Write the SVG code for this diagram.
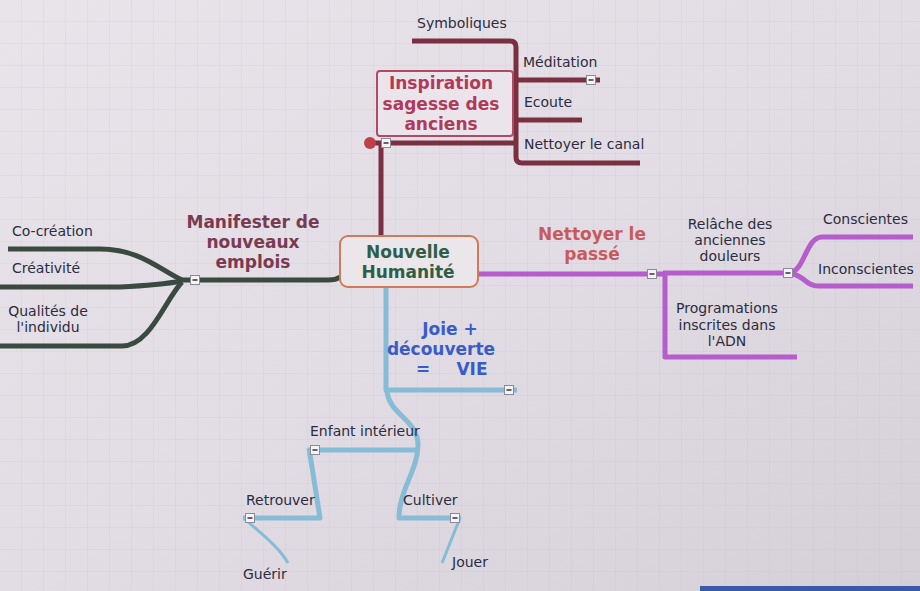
<svg xmlns="http://www.w3.org/2000/svg" width="920" height="591" viewBox="0 0 920 591">
<defs>
<linearGradient id="bg" x1="0" y1="0" x2="1" y2="1">
<stop offset="0" stop-color="#e9e4ea"/>
<stop offset="0.5" stop-color="#e2dce4"/>
<stop offset="1" stop-color="#d5cfd8"/>
</linearGradient>
<pattern id="grid" width="22" height="22" patternUnits="userSpaceOnUse">
<path d="M22,0 V22 M0,22 H22" fill="none" stroke="#b8b2c0" stroke-width="0.6" opacity="0.5"/>
</pattern>
<g id="minus">
<rect x="-4.5" y="-4.5" width="9" height="9" fill="#f4f4f6" stroke="#8a8a98" stroke-width="1"/>
<line x1="-2.5" y1="0" x2="2.5" y2="0" stroke="#333" stroke-width="1.5"/>
</g>
</defs>
<style>
.ln{fill:none;stroke-width:5;stroke-linecap:butt;stroke-linejoin:round}
.maroon{stroke:#7a3040}
.green{stroke:#3a4a40}
.purple{stroke:#b65ccc}
.blue{stroke:#86bcd6}
.t{font-family:"DejaVu Sans","Liberation Sans",sans-serif;font-size:14px;fill:#2c2c3e}
.b{font-family:"DejaVu Sans","Liberation Sans",sans-serif;font-size:17px;font-weight:bold;text-anchor:middle}
</style>
<rect width="920" height="591" fill="url(#bg)"/>
<rect width="920" height="591" fill="url(#grid)"/>
<rect x="700" y="586" width="220" height="5" fill="#3a5aa8"/>

<g id="connectors">
<path class="ln maroon" d="M381,236 V143"/>
<path class="ln maroon" d="M367,143 H516"/>
<path class="ln maroon" d="M412,41 H510 Q516,41 516,47 V157 Q516,163 522,163 H640"/>
<path class="ln maroon" d="M516,80 H600"/>
<path class="ln maroon" d="M516,120 H582"/>
<path class="ln green" d="M340,277 Q336,280 328,280 H180"/>
<path class="ln green" d="M8,249 H100 C140,249 160,270 182,280"/>
<path class="ln green" d="M0,287 H120 Q160,285 182,281"/>
<path class="ln green" d="M0,346 H122 C150,346 165,300 182,282"/>
<path class="ln purple" d="M478,274 H665"/>
<path class="ln purple" d="M663,273 H792"/>
<path class="ln purple" d="M665,273 V357 H797"/>
<path class="ln purple" d="M790,273 C805,270 806,237 822,237 H913"/>
<path class="ln purple" d="M790,273 C805,276 806,286 818,286 H913"/>
<path class="ln blue" d="M386,287 V390 H517"/>
<path class="ln blue" d="M387,392 C390,415 418,420 418,445 C418,470 399,490 399,518 H461"/>
<path class="ln blue" d="M460,518 L442,563" style="stroke-width:3"/>
<path class="ln blue" d="M308,450 H418"/>
<path class="ln blue" d="M309,448 L320,518 H243"/>
<path class="ln blue" d="M244,518 C256,530 278,545 288,563" style="stroke-width:3"/>
<circle cx="370" cy="143" r="6" fill="#c0404a"/>
<use href="#minus" x="386" y="143"/>
<use href="#minus" x="591" y="80"/>
<use href="#minus" x="195" y="280"/>
<use href="#minus" x="652" y="274"/>
<use href="#minus" x="788" y="273"/>
<use href="#minus" x="509" y="390"/>
<use href="#minus" x="315" y="450"/>
<use href="#minus" x="250" y="518"/>
<use href="#minus" x="455" y="518"/>
</g>

<g id="center">
<rect x="340" y="236" width="138" height="51" rx="8" fill="#ebe6ea" stroke="#d07a5a" stroke-width="2"/>
<text class="b" x="408" y="258" fill="#2f5e48">Nouvelle</text>
<text class="b" x="408" y="278" fill="#2f5e48">Humanité</text>
</g>

<g id="inspiration">
<rect x="377" y="71" width="136" height="65" rx="3" fill="#ebe4ea" stroke="#b04a66" stroke-width="2"/>
<text class="b" x="441" y="89" fill="#b03a5a">Inspiration</text>
<text class="b" x="441" y="110" fill="#b03a5a">sagesse des</text>
<text class="b" x="441" y="130" fill="#b03a5a">anciens</text>
</g>
<g id="symboliques"><text class="t" x="417" y="28">Symboliques</text></g>
<g id="meditation"><text class="t" x="523" y="67">Méditation</text></g>
<g id="ecoute"><text class="t" x="524" y="107">Ecoute</text></g>
<g id="nettoyer-canal"><text class="t" x="524" y="149">Nettoyer le canal</text></g>

<g id="manifester">
<text class="b" x="253" y="228" fill="#7a3a52">Manifester de</text>
<text class="b" x="253" y="248" fill="#7a3a52">nouveaux</text>
<text class="b" x="253" y="268" fill="#7a3a52">emplois</text>
</g>
<g id="cocreation"><text class="t" x="12" y="236">Co-création</text></g>
<g id="creativite"><text class="t" x="12" y="273">Créativité</text></g>
<g id="qualites">
<text class="t" x="48" y="316" text-anchor="middle">Qualités de</text>
<text class="t" x="48" y="332" text-anchor="middle">l'individu</text>
</g>

<g id="nettoyer-passe">
<text class="b" x="592" y="240" fill="#c85a5c">Nettoyer le</text>
<text class="b" x="592" y="260" fill="#c85a5c">passé</text>
</g>
<g id="relache">
<text class="t" x="730" y="229" text-anchor="middle">Relâche des</text>
<text class="t" x="730" y="245" text-anchor="middle">anciennes</text>
<text class="t" x="730" y="261" text-anchor="middle">douleurs</text>
</g>
<g id="conscientes"><text class="t" x="823" y="224">Conscientes</text></g>
<g id="inconscientes"><text class="t" x="818" y="274">Inconscientes</text></g>
<g id="programations">
<text class="t" x="727" y="313" text-anchor="middle">Programations</text>
<text class="t" x="727" y="330" text-anchor="middle">inscrites dans</text>
<text class="t" x="727" y="346" text-anchor="middle">l'ADN</text>
</g>

<g id="joie">
<text class="b" x="450" y="335" fill="#3a5cc8">Joie +</text>
<text class="b" x="441" y="355" fill="#3a5cc8">découverte</text>
<text class="b" x="423" y="375" fill="#3a5cc8">=</text>
<text class="b" x="472" y="375" fill="#3a5cc8">VIE</text>
</g>
<g id="enfant"><text class="t" x="310" y="436">Enfant intérieur</text></g>
<g id="retrouver"><text class="t" x="246" y="505">Retrouver</text></g>
<g id="cultiver"><text class="t" x="403" y="505">Cultiver</text></g>
<g id="guerir"><text class="t" x="243" y="579">Guérir</text></g>
<g id="jouer"><text class="t" x="452" y="567">Jouer</text></g>
</svg>
